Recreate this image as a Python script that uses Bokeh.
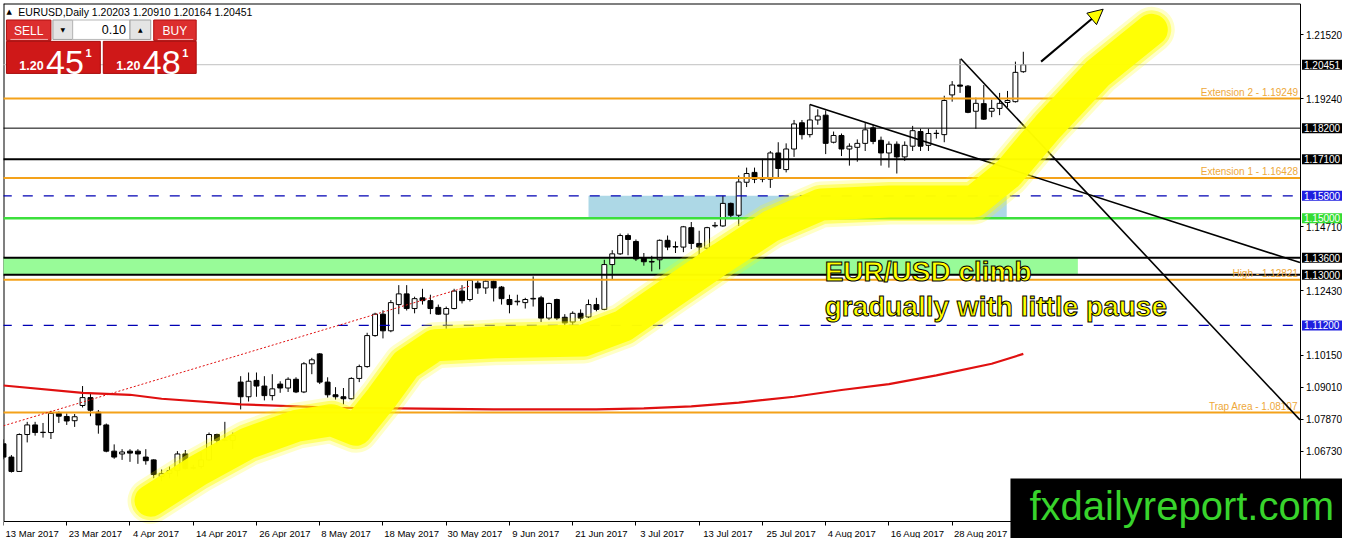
import pandas as pd
from bokeh.plotting import figure
from bokeh.models import (ColumnDataSource, Range1d, LinearAxis, FixedTicker, Label,
                          Arrow, NormalHead, PrintfTickFormatter)
from bokeh.core.properties import value
from bokeh.embed import file_html
from bokeh.resources import INLINE

# ---------------- data ----------------
opens = [
    1.0700, 1.0653, 1.0602, 1.0733, 1.0767, 1.0740, 1.0740, 1.0808, 1.0797, 1.0782,
    1.0836, 1.0864, 1.0812, 1.0767, 1.0674, 1.0664, 1.0674, 1.0674, 1.0653, 1.0643,
    1.0584, 1.0595, 1.0605, 1.0664, 1.0614, 1.0619, 1.0643, 1.0733, 1.0712, 1.0712,
    1.0919, 1.0867, 1.0925, 1.0905, 1.0871, 1.0912, 1.0898, 1.0929, 1.0884, 1.0984,
    1.1019, 1.0919, 1.0874, 1.0867, 1.0860, 1.0932, 1.0974, 1.1084, 1.1160, 1.1101,
    1.1194, 1.1232, 1.1180, 1.1218, 1.1208, 1.1184, 1.1160, 1.1180, 1.1242, 1.1212,
    1.1270, 1.1253, 1.1277, 1.1256, 1.1212, 1.1204, 1.1201, 1.1214, 1.1218, 1.1146,
    1.1212, 1.1149, 1.1132, 1.1163, 1.1150, 1.1194, 1.1177, 1.1336, 1.1374, 1.1439,
    1.1418, 1.1360, 1.1345, 1.1353, 1.1422, 1.1398, 1.1398, 1.1467, 1.1411, 1.1394,
    1.1473, 1.1473, 1.1553, 1.1511, 1.1628, 1.1663, 1.1639, 1.1639, 1.1732, 1.1673,
    1.1746, 1.1839, 1.1797, 1.1849, 1.1866, 1.1770, 1.1794, 1.1746, 1.1752, 1.1766,
    1.1821, 1.1777, 1.1732, 1.1763, 1.1718, 1.1756, 1.1808, 1.1759, 1.1801, 1.1797,
    1.1938, 1.1973, 1.1969, 1.1880, 1.1907, 1.1880, 1.1890, 1.1911, 1.1914, 1.20203,
]
highs = [
    1.0716, 1.0660, 1.0737, 1.0778, 1.0778, 1.0774, 1.0817, 1.0815, 1.0808, 1.0806,
    1.0905, 1.0877, 1.0820, 1.0772, 1.0698, 1.0681, 1.0681, 1.0681, 1.0681, 1.0645,
    1.0609, 1.0619, 1.0674, 1.0678, 1.0626, 1.0671, 1.0740, 1.0736, 1.0778, 1.0740,
    1.0940, 1.0953, 1.0953, 1.0940, 1.0947, 1.0922, 1.0936, 1.0936, 1.0990, 1.1005,
    1.1022, 1.0936, 1.0901, 1.0898, 1.0936, 1.0981, 1.1094, 1.1165, 1.1174, 1.1210,
    1.1263, 1.1263, 1.1222, 1.1250, 1.1229, 1.1194, 1.1187, 1.1250, 1.1263, 1.1284,
    1.1280, 1.1284, 1.1280, 1.1260, 1.1229, 1.1229, 1.1218, 1.1294, 1.1225, 1.1201,
    1.1215, 1.1160, 1.1170, 1.1177, 1.1212, 1.1218, 1.1353, 1.1387, 1.1446, 1.1446,
    1.1425, 1.1377, 1.1367, 1.1425, 1.1439, 1.1418, 1.1473, 1.1487, 1.1456, 1.1470,
    1.1487, 1.1580, 1.1556, 1.1652, 1.1680, 1.1680, 1.1711, 1.1739, 1.1770, 1.1766,
    1.1849, 1.1849, 1.1904, 1.1887, 1.1883, 1.1808, 1.1801, 1.1766, 1.1780, 1.1838,
    1.1832, 1.1790, 1.1773, 1.1773, 1.1773, 1.1828, 1.1818, 1.1818, 1.1814, 1.1935,
    1.1987, 1.2066, 1.1973, 1.1928, 1.1973, 1.1921, 1.1945, 1.1952, 1.2056, 1.20910,
]
lows = [
    1.0645, 1.0598, 1.0600, 1.0705, 1.0729, 1.0722, 1.0717, 1.0774, 1.0767, 1.0760,
    1.0829, 1.0798, 1.0736, 1.0670, 1.0647, 1.0643, 1.0636, 1.0629, 1.0626, 1.0578,
    1.0567, 1.0578, 1.0584, 1.0609, 1.0609, 1.0612, 1.0638, 1.0698, 1.0709, 1.0681,
    1.0822, 1.0850, 1.0867, 1.0854, 1.0854, 1.0881, 1.0884, 1.0880, 1.0880, 1.0947,
    1.0912, 1.0864, 1.0857, 1.0840, 1.0857, 1.0919, 1.0970, 1.1080, 1.1074, 1.1096,
    1.1160, 1.1173, 1.1163, 1.1194, 1.1160, 1.1158, 1.1108, 1.1177, 1.1198, 1.1205,
    1.1232, 1.1232, 1.1205, 1.1194, 1.1163, 1.1191, 1.1180, 1.1187, 1.1132, 1.1139,
    1.1139, 1.1115, 1.1122, 1.1136, 1.1146, 1.1170, 1.1174, 1.1284, 1.1370, 1.1369,
    1.1349, 1.1332, 1.1312, 1.1319, 1.1387, 1.1377, 1.1380, 1.1391, 1.1367, 1.1387,
    1.1467, 1.1470, 1.1504, 1.1473, 1.1611, 1.1625, 1.1628, 1.1608, 1.1646, 1.1663,
    1.1718, 1.1780, 1.1787, 1.1832, 1.1728, 1.1766, 1.1721, 1.1687, 1.1701, 1.1739,
    1.1763, 1.1687, 1.1680, 1.1659, 1.1704, 1.1739, 1.1739, 1.1739, 1.1783, 1.1770,
    1.1914, 1.1945, 1.1873, 1.1818, 1.1849, 1.1859, 1.1866, 1.1894, 1.1911, 1.20164,
]
closes = [
    1.0653, 1.0602, 1.0733, 1.0767, 1.0740, 1.0741, 1.0808, 1.0798, 1.0781, 1.0796,
    1.0864, 1.0819, 1.0767, 1.0674, 1.0653, 1.0671, 1.0667, 1.0664, 1.0640, 1.0591,
    1.0594, 1.0605, 1.0664, 1.0612, 1.0615, 1.0643, 1.0733, 1.0712, 1.0713, 1.0729,
    1.0867, 1.0922, 1.0905, 1.0871, 1.0895, 1.0898, 1.0929, 1.0884, 1.0984, 1.0998,
    1.0919, 1.0874, 1.0867, 1.0860, 1.0932, 1.0974, 1.1084, 1.1160, 1.1101, 1.1201,
    1.1232, 1.1180, 1.1215, 1.1208, 1.1180, 1.1160, 1.1180, 1.1242, 1.1208, 1.1280,
    1.1253, 1.1277, 1.1253, 1.1215, 1.1194, 1.1206, 1.1212, 1.1216, 1.1146, 1.1198,
    1.1146, 1.1129, 1.1163, 1.1146, 1.1194, 1.1177, 1.1336, 1.1374, 1.1439, 1.1425,
    1.1356, 1.1346, 1.1347, 1.1422, 1.1398, 1.1400, 1.1470, 1.1411, 1.1398, 1.1467,
    1.1475, 1.1553, 1.1511, 1.1629, 1.1659, 1.1639, 1.1642, 1.1732, 1.1677, 1.1746,
    1.1835, 1.1797, 1.1849, 1.1863, 1.1766, 1.1794, 1.1746, 1.1756, 1.1766, 1.1814,
    1.1773, 1.1732, 1.1763, 1.1718, 1.1759, 1.1811, 1.1756, 1.1801, 1.1802, 1.1918,
    1.1973, 1.1969, 1.1876, 1.1908, 1.1852, 1.1890, 1.1908, 1.1918, 1.2018, 1.20451,
]

tick_bars = [0, 8, 16, 24, 32, 40, 48, 56, 64, 72, 80, 88, 96, 104, 112, 120]
tick_labels = ["13 Mar 2017", "23 Mar 2017", "4 Apr 2017", "14 Apr 2017", "26 Apr 2017",
               "8 May 2017", "18 May 2017", "30 May 2017", "9 Jun 2017", "21 Jun 2017",
               "3 Jul 2017", "13 Jul 2017", "25 Jul 2017", "4 Aug 2017", "16 Aug 2017",
               "28 Aug 2017"]
price_ticks = [1.21520, 1.19240, 1.14710, 1.12430, 1.10150, 1.09010, 1.07870, 1.06730]

level_prices = [1.20451, 1.18200, 1.17100, 1.15800, 1.15000, 1.13600, 1.13000, 1.11200]
level_names = ["1.20451", "1.18200", "1.17100", "1.15800", "1.15000", "1.13600", "1.13000", "1.11200"]

fib_prices = [1.19249, 1.16428, 1.12821, 1.08107]
fib_names = ["Extension 2 - 1.19249", "Extension 1 - 1.16428", "High - 1.12821", "Trap Area - 1.08107"]

zone_left = [74.0, -1.0]
zone_right = [126.9, 135.9]
zone_bottom = [1.1500, 1.1300]
zone_top = [1.1580, 1.1360]

ma_bars = [0, 10, 16, 20, 30, 42, 50, 62, 75, 81, 87, 93, 100, 106, 112, 118, 125, 129]
ma_values = [1.0907, 1.0881, 1.0874, 1.0860, 1.0840, 1.0828, 1.0826, 1.0822, 1.0822,
             1.0826, 1.0833, 1.0846, 1.0867, 1.0891, 1.0912, 1.0943, 1.0984, 1.1019]

dotted_bars = [0, 59]
dotted_prices = [1.0764, 1.1260]

trend_x0 = [102.0, 121.1]
trend_y0 = [1.1904, 1.2066]
trend_x1 = [164.0, 164.0]
trend_y1 = [1.1343, 1.0785]

arrow_bars = [131.25, 139.1]
arrow_prices = [1.2056, 1.2242]

highlight_bars = [18.6, 24.6, 30.9, 37.1, 41.5, 44.6, 47.75, 50.9, 54.6, 62.1, 73.4, 78.4,
                  84.6, 90.9, 97.1, 103.4, 112.1, 122.75, 127.1, 132.1, 138.4, 145.25]
highlight_prices = [1.0498, 1.0605, 1.0702, 1.0764, 1.0784, 1.0750, 1.0860, 1.0981, 1.1050,
                    1.1060, 1.1067, 1.1119, 1.1239, 1.1360, 1.1473, 1.1549, 1.1560, 1.1560,
                    1.1659, 1.1825, 1.2014, 1.2169]

annotation_lines = ["EUR/USD climb", "gradually with little pause"]
header_text = "EURUSD,Daily  1.20203 1.20910 1.20164 1.20451"
watermark = "fxdailyreport.com"

# ---------------- helpers for decorations (reference pixel -> data) ----------------
def bx(px):
    return (px - 3) / 8.0


def py(pix):
    return 1.22726 - 0.0003445 * pix


FONT = value("Liberation Sans")
X_END = bx(1315)      # price scale position
Y_BOT = py(536)       # time scale position

p = figure(width=1342, height=538, output_backend="svg", toolbar_location=None, tools="",
           x_range=Range1d(bx(3), bx(1358)), y_range=Range1d(py(554), py(3)),
           x_axis_location=None, y_axis_location=None,
           min_border_left=3, min_border_top=3, min_border_right=0, min_border_bottom=0,
           background_fill_color="white", border_fill_color="white")
p.outline_line_color = None
p.grid.visible = False

# axes (fixed at the chart's edges, MT4 style)
centers = [b + (len(lab) * 4.85 / 2 + 2) / 7.9 for b, lab in zip(tick_bars, tick_labels)]
xaxis = LinearAxis(ticker=FixedTicker(ticks=centers, minor_ticks=tick_bars),
                   major_label_overrides={c: lab for c, lab in zip(centers, tick_labels)},
                   fixed_location=Y_BOT, bounds=(bx(3), X_END),
                   major_tick_in=0, major_tick_out=0, minor_tick_in=0, minor_tick_out=4,
                   major_label_standoff=3, major_label_text_font="Liberation Sans",
                   major_label_text_font_size="9.5px", major_label_text_color="black",
                   axis_line_color="black")
p.add_layout(xaxis, "below")
yaxis = LinearAxis(ticker=FixedTicker(ticks=price_ticks, minor_ticks=[]),
                   formatter=PrintfTickFormatter(format="%.5f"),
                   fixed_location=X_END, bounds=(Y_BOT, py(3)),
                   major_tick_in=0, major_tick_out=3, minor_tick_out=0,
                   major_label_standoff=3, major_label_text_font="Liberation Sans",
                   major_label_text_font_size="10px", major_label_text_color="black",
                   axis_line_color="black")
p.add_layout(yaxis, "right")

# chart border (left and top)
p.segment(x0=[bx(3), bx(3)], y0=[py(3), py(3)], x1=[bx(3), X_END], y1=[Y_BOT, py(3)],
          line_color="black", line_width=2)

# zones
p.quad(left=zone_left, right=zone_right, bottom=zone_bottom, top=zone_top,
       fill_color=["#add8e6", "#98fb98"], line_color=None)

# candles
n = len(opens)
src = ColumnDataSource(dict(
    x=list(range(n)), o=opens, h=highs, l=lows, c=closes,
    top=[max(a, b) for a, b in zip(opens, closes)],
    bot=[min(a, b) for a, b in zip(opens, closes)],
    fill=["white" if c >= o else "black" for o, c in zip(opens, closes)],
))
p.segment(x0="x", y0="h", x1="x", y1="l", source=src, line_color="black", line_width=1)
p.vbar(x="x", top="top", bottom="bot", width=0.62, source=src, fill_color="fill",
       line_color="black", line_width=1)

# horizontal levels
xs0, xs1 = bx(-20), X_END
solid_idx = [0, 1, 2, 4, 5, 6]
solid_colors = ["#c0c0c0", "black", "black", "#3ce03c", "black", "black"]
solid_widths = [1, 1, 2, 2.5, 2, 2]
p.segment(x0=[xs0] * 6, x1=[xs1] * 6, y0=[level_prices[i] for i in solid_idx],
          y1=[level_prices[i] for i in solid_idx], line_color=solid_colors, line_width=solid_widths)
dash_idx = [3, 7]
p.segment(x0=[xs0] * 2, x1=[xs1] * 2, y0=[level_prices[i] for i in dash_idx],
          y1=[level_prices[i] for i in dash_idx], line_color="#0000b4", line_width=1.2,
          line_dash="10 11")
p.segment(x0=[xs0] * 4, x1=[xs1] * 4, y0=fib_prices, y1=fib_prices,
          line_color="#f4a21a", line_width=2)
p.text(x=[bx(1313)] * 4, y=fib_prices, text=fib_names, text_align="right",
       text_baseline="bottom", y_offset=-1, text_color="#eea83a", text_font=FONT,
       text_font_size="10px")

# moving average, trend lines
p.line(ma_bars, ma_values, line_color="#e01010", line_width=2.2)
p.line(dotted_bars, dotted_prices, line_color="#e01010", line_width=1, line_dash="2 2")
p.segment(x0=trend_x0, y0=trend_y0, x1=trend_x1, y1=trend_y1, line_color="black", line_width=1.6)

# yellow highlight stroke
for w, a in [(46, 0.22), (39, 0.45), (32, 0.95)]:
    p.line(highlight_bars, highlight_prices, line_color="#ffff00", line_width=w, line_alpha=a,
           line_join="round", line_cap="round")

# arrow
p.add_layout(Arrow(end=NormalHead(size=15, fill_color="#ffff00", line_color="black", line_width=1),
                   x_start=arrow_bars[0], y_start=arrow_prices[0],
                   x_end=arrow_bars[1], y_end=arrow_prices[1],
                   line_color="black", line_width=2))

# big caption (y given at the text bottom edge, the renderer adds the descent)
cap_kw = dict(text_font=FONT, text_font_style="bold", text_font_size="28px",
              text_color="#ffff00", text_baseline="alphabetic")
try:
    p.text(x=[bx(834)] * 2, y=[py(279), py(315)], text=annotation_lines,
           text_outline_color="black", **cap_kw)
except Exception:
    p.text(x=[bx(834)] * 2, y=[py(279), py(315)], text=annotation_lines, **cap_kw)

# header
p.text(x=[bx(6)], y=[py(12)], text=["\u25b2"], text_font=value("DejaVu Sans"),
       text_font_size="7px", text_baseline="middle", text_color="black")
p.text(x=[bx(18)], y=[py(12)], text=[header_text], text_font=FONT, text_font_size="10.5px",
       text_baseline="middle", text_color="black")

# one-click trading panel
pl = [6, 6, 53, 73, 131, 155, 104]
pr = [51, 101, 73, 131, 152, 198, 198]
pt = [20, 42, 20, 20, 20, 20, 42]
pb = [41, 75, 40, 40, 40, 41, 75]
pf = ["#dc2e2e", "#cf1818", "#e4e4e4", "white", "#e4e4e4", "#dc2e2e", "#cf1818"]
pc = ["#b01010", "#a80c0c", "#a0a0a0", "#b8b8b8", "#a0a0a0", "#b01010", "#a80c0c"]
p.quad(left=[bx(v) for v in pl], right=[bx(v) for v in pr], top=[py(v) for v in pt],
       bottom=[py(v) for v in pb], fill_color=pf, line_color=pc, line_width=1)
p.segment(x0=[bx(10), bx(159)], x1=[bx(48), bx(195)], y0=[py(40)] * 2, y1=[py(40)] * 2,
          line_color="#f3b0b0", line_width=1)
p.text(x=[bx(28.5), bx(176.5)], y=[py(31)] * 2, text=["SELL", "BUY"], text_align="center",
       text_baseline="middle", text_font=FONT, text_font_size="12px", text_color="white")
p.text(x=[bx(63), bx(141.5)], y=[py(30)] * 2, text=["\u25bc", "\u25b2"], text_align="center",
       text_baseline="middle", text_font=value("DejaVu Sans"), text_font_size="6px",
       text_color="black")
p.text(x=[bx(127)], y=[py(30)], text=["0.10"], text_align="right", text_baseline="middle",
       text_font=FONT, text_font_size="12.5px", text_color="black")
p.text(x=[bx(19), bx(117)], y=[py(66.5)] * 2, text=["1.20", "1.20"], text_font=FONT,
       text_font_style="bold", text_font_size="12.5px", text_color="white",
       text_baseline="alphabetic")
p.text(x=[bx(46), bx(144)], y=[py(64)] * 2, text=["45", "48"], text_font=FONT,
       text_font_size="34px", text_color="white", text_baseline="alphabetic")
p.text(x=[bx(86), bx(184)], y=[py(54)] * 2, text=["1", "1"], text_font=FONT,
       text_font_style="bold", text_font_size="11px", text_color="white",
       text_baseline="alphabetic")

# price boxes on the right scale
box_colors = ["black", "black", "black", "#1f1fe0", "#33dd33", "black", "black", "#1f1fe0"]
for price, name, col in zip(level_prices, level_names, box_colors):
    p.add_layout(Label(x=X_END, y=price, x_offset=2, text=name, text_align="left",
                       text_baseline="middle", text_color="white", text_font="Liberation Sans",
                       text_font_size="10px", background_fill_color=col,
                       padding=dict(left=2, right=8, top=1, bottom=1)))

# watermark
p.add_layout(Label(x=bx(1022), y=py(533), text=watermark, text_align="left",
                   text_baseline="alphabetic", text_color="#38d42c", text_font="Liberation Sans",
                   text_font_size="40px", background_fill_color="black",
                   padding=dict(left=19, right=40, top=5, bottom=30)))

open("out.html", "w").write(file_html(p, INLINE))
